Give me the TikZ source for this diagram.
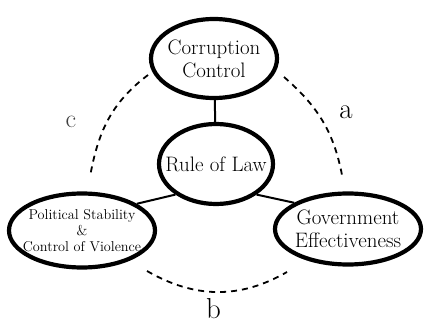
\documentclass[tikz,border=0pt]{standalone}
\usetikzlibrary{shapes.geometric}
\begin{document}
\begin{tikzpicture}[x=1bp,y=1bp,
  oval/.style={ellipse, draw, line width=4.2bp, inner xsep=-40bp, inner ysep=-25bp, align=center},
  link/.style={line width=2bp},
  dasharc/.style={line width=1.8bp, dash pattern=on 6bp off 5bp},
  bigtext/.style={font=\fontsize{21}{23}\selectfont},
  smalltext/.style={font=\fontsize{14.3}{16}\selectfont},
  letter/.style={inner sep=0pt, font=\fontsize{29}{29}\selectfont}
]
\useasboundingbox (0,0) rectangle (424,324);
\node[oval, bigtext, minimum width=126bp, minimum height=79bp] (cc) at (214,265.5) {Corruption\\Control};
\node[oval, bigtext, minimum width=114bp, minimum height=80bp] (rol) at (216,160) {Rule of Law};
\node[oval, smalltext, minimum width=146bp, minimum height=74bp] (ps) at (82,93.5) {Political Stability\\\&\\Control of Violence};
\node[oval, bigtext, minimum width=146bp, minimum height=71bp] (ge) at (348,95) {Government\\Effectiveness};

\draw[link] (cc) -- (rol);
\draw[link] (rol.217) -- (ps.26);
\draw[link] (rol.323) -- (ge.154);

\coordinate (a1) at (284,247);
\coordinate (a2) at (342,149);
\coordinate (c1) at (148,249);
\coordinate (c2) at (90,147);
\coordinate (b1) at (147,53);
\coordinate (b2) at (287,52);
\draw[dasharc] (a1) to[out=-41,in=101] (a2);
\draw[dasharc] (c1) to[out=217,in=80] (c2);
\draw[dasharc] (b1) to[out=-30,in=210] (b2);

\node[letter] (la) at (346,212) {a};
\node[letter] (lb) at (213.5,15) {b};
\node[letter, text=black!75, font=\fontsize{26}{26}\selectfont] (lc) at (71,202) {c};
\end{tikzpicture}
\end{document}
